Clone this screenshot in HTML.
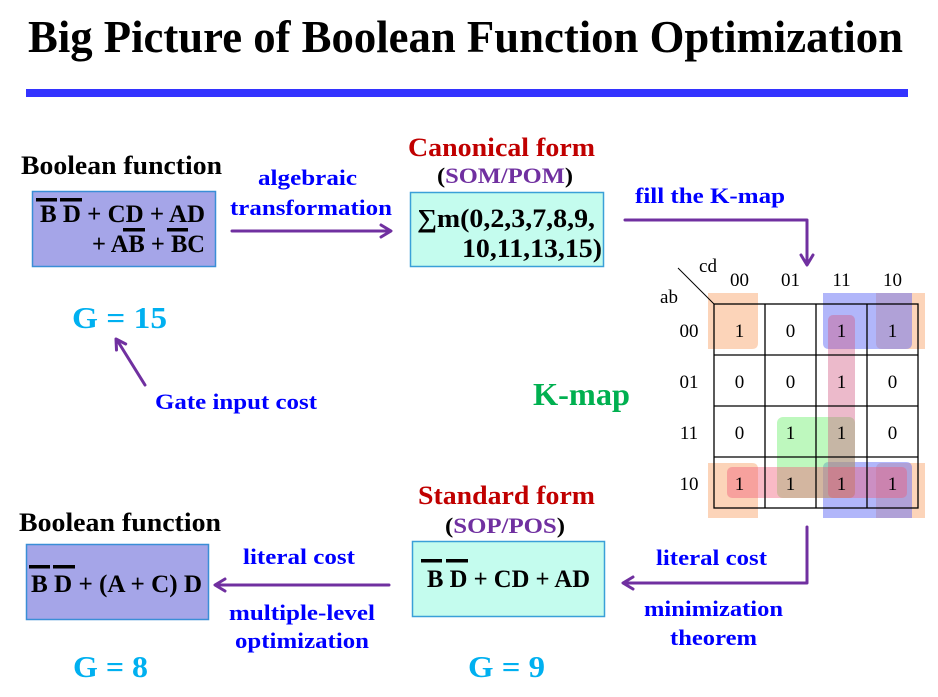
<!DOCTYPE html>
<html><head><meta charset="utf-8"><style>
html,body{margin:0;padding:0;background:#fff;}
svg{display:block;}
text{font-family:"Liberation Serif","DejaVu Serif",serif;}
.b{font-weight:bold;}
</style></head><body>
<svg width="938" height="697" viewBox="0 0 938 697" xmlns="http://www.w3.org/2000/svg">
<!-- Title -->
<text x="28" y="52" class="b" font-size="45" textLength="875" lengthAdjust="spacingAndGlyphs" fill="#000">Big Picture of Boolean Function Optimization</text>
<rect x="26" y="89" width="882" height="8" fill="#3333ff"/>

<!-- Top-left boolean function -->
<text x="21" y="174" class="b" font-size="26" textLength="201" lengthAdjust="spacingAndGlyphs">Boolean function</text>
<rect x="32.5" y="191.5" width="183" height="75" fill="#a5a5e8" stroke="#3a8ed6" stroke-width="1.5"/>
<text x="40" y="222" class="b" font-size="25" textLength="165" lengthAdjust="spacingAndGlyphs">B D + CD + AD</text>
<text x="92" y="252" class="b" font-size="25" textLength="113" lengthAdjust="spacingAndGlyphs">+ AB + BC</text>
<rect x="36" y="198" width="21" height="3.5" fill="#000"/>
<rect x="60" y="198" width="22" height="3.5" fill="#000"/>
<rect x="123" y="228" width="22" height="3.5" fill="#000"/>
<rect x="167" y="228" width="21" height="3.5" fill="#000"/>

<text x="258" y="185" class="b" font-size="22" fill="#0000ff" textLength="99" lengthAdjust="spacingAndGlyphs">algebraic</text>
<text x="230" y="215" class="b" font-size="22" fill="#0000ff" textLength="162" lengthAdjust="spacingAndGlyphs">transformation</text>

<text x="72" y="328" class="b" font-size="31" fill="#00b0f0" textLength="95" lengthAdjust="spacingAndGlyphs">G = 15</text>
<text x="155" y="409" class="b" font-size="22" fill="#0000ff" textLength="162" lengthAdjust="spacingAndGlyphs">Gate input cost</text>

<!-- Canonical form -->
<text x="408" y="156" class="b" font-size="26" fill="#c00000" textLength="187" lengthAdjust="spacingAndGlyphs">Canonical form</text>
<text x="437" y="183" class="b" font-size="22" textLength="136" lengthAdjust="spacingAndGlyphs"><tspan fill="#000">(</tspan><tspan fill="#7030a0">SOM/POM</tspan><tspan fill="#000">)</tspan></text>
<rect x="410.5" y="192.5" width="193" height="74" fill="#c4fcee" stroke="#3aa0d8" stroke-width="1.5"/>
<text x="417" y="227" class="b" font-size="26" textLength="178" lengthAdjust="spacingAndGlyphs">∑m(0,2,3,7,8,9,</text>
<text x="462" y="257" class="b" font-size="26" textLength="140" lengthAdjust="spacingAndGlyphs">10,11,13,15)</text>

<text x="635" y="203" class="b" font-size="22" fill="#0000ff" textLength="150" lengthAdjust="spacingAndGlyphs">fill the K-map</text>

<text x="533" y="405" class="b" font-size="32" fill="#00b050" textLength="97" lengthAdjust="spacingAndGlyphs">K-map</text>

<!-- K-map overlays -->
<g>
  <!-- orange corners -->
  <path d="M708,293 H758 V343 Q758,349 752,349 H708 Z" fill="#f8a064" fill-opacity="0.45"/>
  <path d="M876,293 H925 V349 H882 Q876,349 876,343 Z" fill="#f8a064" fill-opacity="0.45"/>
  <path d="M708,463 H752 Q758,463 758,469 V518 H708 Z" fill="#f8a064" fill-opacity="0.45"/>
  <path d="M882,463 H925 V518 H876 V469 Q876,463 882,463 Z" fill="#f8a064" fill-opacity="0.45"/>
  <!-- blue -->
  <path d="M823,293 H912 V343 Q912,349 906,349 H829 Q823,349 823,343 Z" fill="#646ef5" fill-opacity="0.5"/>
  <path d="M829,462 H906 Q912,462 912,468 V518 H823 V468 Q823,462 829,462 Z" fill="#646ef5" fill-opacity="0.5"/>
  <!-- green -->
  <rect x="777" y="417" width="78" height="81" rx="6" fill="#6ef06e" fill-opacity="0.45"/>
  <!-- pink -->
  <rect x="828" y="315" width="27" height="183" rx="5" fill="#d25a82" fill-opacity="0.42"/>
  <rect x="727" y="467" width="180" height="31" rx="5" fill="#f05a78" fill-opacity="0.42"/>
</g>
<!-- K-map grid -->
<g stroke="#000" stroke-width="1.3" fill="none">
  <rect x="714" y="304" width="204" height="204"/>
  <line x1="765" y1="304" x2="765" y2="508"/>
  <line x1="816" y1="304" x2="816" y2="508"/>
  <line x1="867" y1="304" x2="867" y2="508"/>
  <line x1="714" y1="355" x2="918" y2="355"/>
  <line x1="714" y1="406" x2="918" y2="406"/>
  <line x1="714" y1="457" x2="918" y2="457"/>
  <line x1="678" y1="268" x2="714" y2="304" stroke-width="1"/>
</g>
<g font-size="19" fill="#000" text-anchor="middle">
  <text x="708" y="272">cd</text>
  <text x="669" y="303">ab</text>
  <text x="739.5" y="286">00</text>
  <text x="790.5" y="286">01</text>
  <text x="841.5" y="286">11</text>
  <text x="892.5" y="286">10</text>
  <text x="689" y="337">00</text>
  <text x="689" y="388">01</text>
  <text x="689" y="439">11</text>
  <text x="689" y="490">10</text>
  <text x="739.5" y="337">1</text><text x="790.5" y="337">0</text><text x="841.5" y="337">1</text><text x="892.5" y="337">1</text>
  <text x="739.5" y="388">0</text><text x="790.5" y="388">0</text><text x="841.5" y="388">1</text><text x="892.5" y="388">0</text>
  <text x="739.5" y="439">0</text><text x="790.5" y="439">1</text><text x="841.5" y="439">1</text><text x="892.5" y="439">0</text>
  <text x="739.5" y="490">1</text><text x="790.5" y="490">1</text><text x="841.5" y="490">1</text><text x="892.5" y="490">1</text>
</g>

<!-- Standard form -->
<text x="418" y="504" class="b" font-size="26" fill="#c00000" textLength="177" lengthAdjust="spacingAndGlyphs">Standard form</text>
<text x="445" y="533" class="b" font-size="22" textLength="120" lengthAdjust="spacingAndGlyphs"><tspan fill="#000">(</tspan><tspan fill="#7030a0">SOP/POS</tspan><tspan fill="#000">)</tspan></text>
<rect x="412.5" y="541.5" width="192" height="75" fill="#c4fcee" stroke="#3aa0d8" stroke-width="1.5"/>
<text x="427" y="587" class="b" font-size="25" textLength="163" lengthAdjust="spacingAndGlyphs">B D + CD + AD</text>
<rect x="421" y="559" width="21" height="3.5" fill="#000"/>
<rect x="446" y="559" width="22" height="3.5" fill="#000"/>

<text x="656" y="565" class="b" font-size="22" fill="#0000ff" textLength="111" lengthAdjust="spacingAndGlyphs">literal cost</text>
<text x="644" y="616" class="b" font-size="22" fill="#0000ff" textLength="139" lengthAdjust="spacingAndGlyphs">minimization</text>
<text x="670" y="645" class="b" font-size="22" fill="#0000ff" textLength="87" lengthAdjust="spacingAndGlyphs">theorem</text>
<text x="468" y="677" class="b" font-size="31" fill="#00b0f0" textLength="77" lengthAdjust="spacingAndGlyphs">G = 9</text>

<!-- Bottom-left -->
<text x="19" y="531" class="b" font-size="26" textLength="202" lengthAdjust="spacingAndGlyphs">Boolean function</text>
<rect x="26.5" y="544.5" width="182" height="75" fill="#a5a5e8" stroke="#3a8ed6" stroke-width="1.5"/>
<text x="31" y="592" class="b" font-size="25" textLength="171" lengthAdjust="spacingAndGlyphs">B D + (A + C) D</text>
<rect x="29" y="565" width="21" height="3.5" fill="#000"/>
<rect x="53" y="565" width="22" height="3.5" fill="#000"/>

<text x="243" y="564" class="b" font-size="22" fill="#0000ff" textLength="112" lengthAdjust="spacingAndGlyphs">literal cost</text>
<text x="229" y="620" class="b" font-size="22" fill="#0000ff" textLength="146" lengthAdjust="spacingAndGlyphs">multiple-level</text>
<text x="235" y="648" class="b" font-size="22" fill="#0000ff" textLength="134" lengthAdjust="spacingAndGlyphs">optimization</text>
<text x="73" y="677" class="b" font-size="31" fill="#00b0f0" textLength="75" lengthAdjust="spacingAndGlyphs">G = 8</text>

<!-- Arrows -->
<g stroke="#7030a0" stroke-width="3" fill="none" stroke-linecap="round" stroke-linejoin="round">
  <line x1="232" y1="231" x2="390" y2="231"/>
  <polyline points="381,225 391,231 381,237"/>
  <polyline points="625,220 807,220 807,264"/>
  <polyline points="801,255 807,265 813,255"/>
  <polyline points="807,527 807,583 624,583"/>
  <polyline points="633,577 623,583 633,589"/>
  <line x1="389" y1="585" x2="216" y2="585"/>
  <polyline points="225,579 215,585 225,591"/>
  <line x1="145" y1="385" x2="117" y2="340"/>
  <polyline points="116.5,350 116,339 125.7,344"/>
</g>
</svg>
</body></html>
